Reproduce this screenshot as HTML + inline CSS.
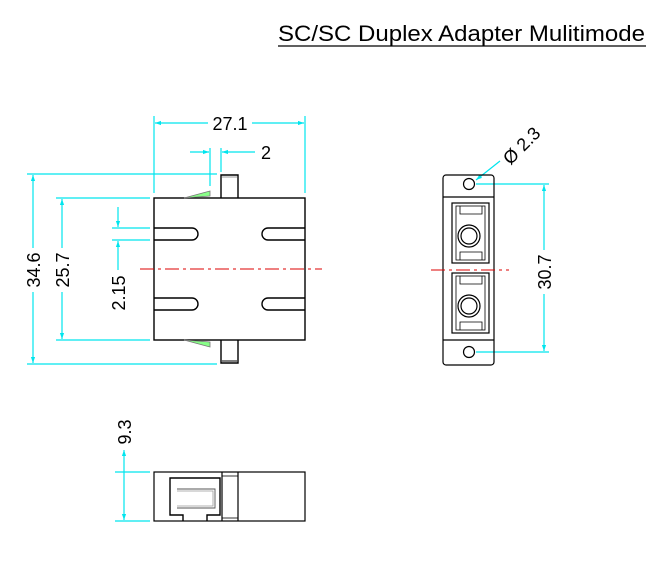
<!DOCTYPE html>
<html><head><meta charset="utf-8"><style>
html,body{margin:0;padding:0;background:#fff;}
svg{display:block;font-family:"Liberation Sans",Arial,sans-serif;}
</style></head><body>
<svg width="665" height="571" viewBox="0 0 665 571" xmlns="http://www.w3.org/2000/svg">
<defs>
<marker id="a" viewBox="0 0 10 10" refX="10" refY="5" markerWidth="10" markerHeight="6" orient="auto-start-reverse" markerUnits="userSpaceOnUse"><path d="M0,1.5 L10,5 L0,8.5 Z" fill="#00e5ee"/></marker>
</defs>
<text x="278" y="41" font-size="22" fill="#000" textLength="367" lengthAdjust="spacingAndGlyphs">SC/SC Duplex Adapter Mulitimode</text>
<line x1="278" y1="46" x2="646" y2="46" stroke="#000" stroke-width="1.2"/>

<g stroke="#00e5ee" stroke-width="1.2" fill="none">
<line x1="154" y1="116" x2="154" y2="193"/><line x1="305" y1="116" x2="305" y2="193"/>
<line x1="155" y1="123" x2="208" y2="123" marker-start="url(#a)"/>
<line x1="252" y1="123" x2="304" y2="123" marker-end="url(#a)"/>
<line x1="210" y1="148" x2="210" y2="186"/><line x1="221" y1="148" x2="221" y2="172"/>
<line x1="190" y1="152" x2="209" y2="152" marker-end="url(#a)"/>
<line x1="255" y1="152" x2="222" y2="152" marker-end="url(#a)"/>
<line x1="27" y1="174" x2="217" y2="174"/><line x1="27" y1="364" x2="217" y2="364"/>
<line x1="33" y1="175" x2="33" y2="248" marker-start="url(#a)"/>
<line x1="33" y1="292" x2="33" y2="363" marker-end="url(#a)"/>
<line x1="56" y1="198" x2="150" y2="198"/><line x1="56" y1="340" x2="150" y2="340"/>
<line x1="62" y1="199" x2="62" y2="248" marker-start="url(#a)"/>
<line x1="62" y1="292" x2="62" y2="339" marker-end="url(#a)"/>
<line x1="112" y1="228" x2="150" y2="228"/><line x1="112" y1="240" x2="150" y2="240"/>
<line x1="118" y1="207" x2="118" y2="227" marker-end="url(#a)"/>
<line x1="118" y1="270" x2="118" y2="241" marker-end="url(#a)"/>
<line x1="476" y1="184" x2="549" y2="184"/><line x1="476" y1="352" x2="549" y2="352"/>
<line x1="544" y1="185" x2="544" y2="250" marker-start="url(#a)"/>
<line x1="544" y1="294" x2="544" y2="351" marker-end="url(#a)"/>
<line x1="500" y1="161" x2="476" y2="180" marker-end="url(#a)"/>
<line x1="115" y1="472" x2="150" y2="472"/><line x1="115" y1="521" x2="150" y2="521"/>
<line x1="124" y1="450" x2="124" y2="520" marker-start="url(#a)" marker-end="url(#a)"/>
</g>

<g font-size="18" fill="#000" text-anchor="middle">
<text x="230" y="130">27.1</text>
<text x="266" y="159">2</text>
<text transform="translate(40,270) rotate(-90)">34.6</text>
<text transform="translate(69,270) rotate(-90)">25.7</text>
<text transform="translate(125,293) rotate(-90)">2.15</text>
<text transform="translate(551,272) rotate(-90)">30.7</text>
<text transform="translate(526,150) rotate(-45)">Ø 2.3</text>
<text transform="translate(131,432) rotate(-90)">9.3</text>
</g>

<g stroke="#000" stroke-width="1.4" fill="none">
<rect x="154" y="198" width="151" height="142"/>
<polyline points="221,198 221,175 238,175 238,198"/>
<polyline points="221,340 221,363 238,363 238,340"/>
<path d="M154,228 H192 A6,6 0 0 1 192,240 H154"/>
<path d="M305,228 H268 A6,6 0 0 0 268,240 H305"/>
<path d="M154,298 H192 A6,6 0 0 1 192,310 H154"/>
<path d="M305,298 H268 A6,6 0 0 0 268,310 H305"/>
</g>
<line x1="222" y1="177" x2="237" y2="177" stroke="#999" stroke-width="1"/>
<line x1="222" y1="361" x2="237" y2="361" stroke="#000" stroke-width="1"/>
<path d="M184,198 L210,191 L210,196 Z" fill="#8f8" stroke="#777" stroke-width="0.8"/>
<path d="M184,340 L210,347 L210,342 Z" fill="#8f8" stroke="#777" stroke-width="0.8"/>
<line x1="140" y1="269" x2="322" y2="269" stroke="#d00" stroke-width="1" stroke-dasharray="14,4,3,4"/>

<g stroke="#000" stroke-width="1.2" fill="none">
<rect x="443" y="175" width="51" height="190" rx="3"/>
<line x1="443" y1="197" x2="494" y2="197"/><line x1="443" y1="340" x2="494" y2="340"/>
<circle cx="469" cy="184" r="5.5"/><circle cx="469" cy="352" r="5.5"/>
<rect x="452" y="203" width="37" height="60"/>
<rect x="452" y="273" width="37" height="60"/>
<rect x="456" y="206" width="29" height="54" stroke-width="0.8"/>
<rect x="456" y="276" width="29" height="54" stroke-width="0.8"/>
<path d="M460,206 V214 H482 V206" stroke-width="0.8"/>
<path d="M460,260 V252 H482 V260" stroke-width="0.8"/>
<path d="M460,276 V284 H482 V276" stroke-width="0.8"/>
<path d="M460,330 V322 H482 V330" stroke-width="0.8"/>
<circle cx="469" cy="236" r="11"/><circle cx="469" cy="236" r="8"/>
<circle cx="469" cy="306" r="11"/><circle cx="469" cy="306" r="8"/>
</g>
<line x1="431" y1="270" x2="509" y2="270" stroke="#d00" stroke-width="1" stroke-dasharray="14,4,3,4"/>

<g stroke="#000" stroke-width="1.2" fill="none">
<rect x="154" y="472" width="151" height="49"/>
<line x1="222" y1="472" x2="222" y2="521"/><line x1="238" y1="472" x2="238" y2="521"/>
<line x1="222" y1="476" x2="238" y2="476" stroke-width="0.8"/>
<line x1="222" y1="518" x2="238" y2="518" stroke-width="0.8"/>
<path d="M183,521 V515 H170 V478 H220 V515 H207 V521" stroke-width="1.4"/>
<path d="M177,489 H215 V508 H177" stroke="#555" stroke-width="0.9"/>
<path d="M177,491 H213 V506 H177" stroke="#999" stroke-width="0.8"/>
</g>
</svg>
</body></html>
